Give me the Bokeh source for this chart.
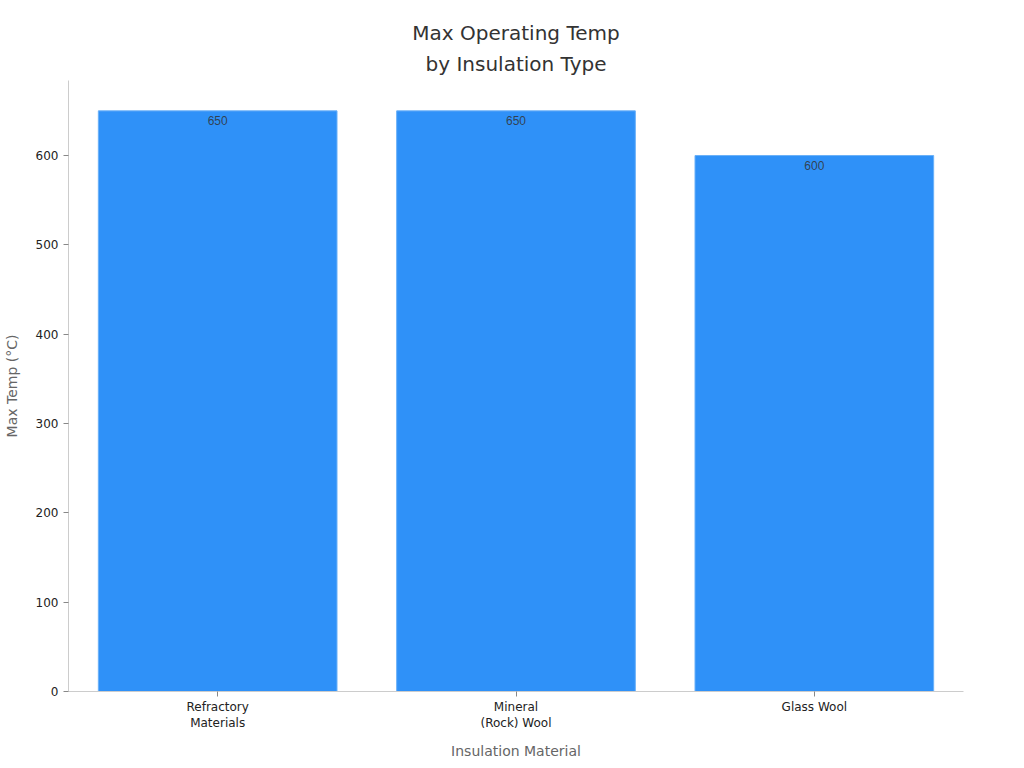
from bokeh.plotting import figure
from bokeh.models import ColumnDataSource, FactorRange, Range1d, Title, CategoricalAxis
from bokeh.embed import file_html
from bokeh.resources import INLINE

# Data
materials = ["Refractory Materials", "Mineral (Rock) Wool", "Glass Wool"]
label_line1 = ["Refractory", "Mineral", "Glass Wool"]
label_line2 = ["Materials", "(Rock) Wool", " "]
max_temp = [650, 650, 600]

source = ColumnDataSource(data=dict(
    material=label_line1,
    name=materials,
    temp=max_temp,
    label=[str(t) for t in max_temp],
))

p = figure(
    x_range=FactorRange(*label_line1, range_padding=0),
    y_range=Range1d(0, 684),
    width=1016, height=760,
    frame_width=895, frame_height=611,
    min_border_left=68, min_border_right=53,
    min_border_top=80, min_border_bottom=69,
    title=None,
    y_axis_label="Max Temp (°C)",
    toolbar_location=None,
    output_backend="svg",
)
p.extra_x_ranges = {"line2": FactorRange(*label_line2, range_padding=0)}

p.vbar(x="material", top="temp", width=0.8, source=source,
       fill_color="#2f91f8", line_color="#6ab0f8", line_width=1)

p.text(x="material", y="temp", text="label", source=source,
       text_align="center", text_baseline="top", y_offset=5,
       text_font_size="12px", text_color="#333333", text_alpha=0.85)

# Two-line title, each line centred
for line, gap in [("by Insulation Type", 10), ("Max Operating Temp", 0)]:
    p.add_layout(Title(text=line, align="center", text_font="DejaVu Sans",
                       text_font_size="20px", text_font_style="normal",
                       text_line_height=0.75,
                       text_color="#333333", standoff=gap), "above")

# second row of x tick labels (two-line category names)
x2 = CategoricalAxis(x_range_name="line2", axis_label="Insulation Material")
p.add_layout(x2, "below")

for ax in (p.xaxis, p.yaxis):
    ax.axis_line_color = "#cccccc"
    ax.major_tick_line_color = "#888888"
    ax.minor_tick_line_color = None
    ax.major_label_text_font = "DejaVu Sans"
    ax.major_label_text_font_size = "12px"
    ax.major_label_text_color = "#222222"
    ax.axis_label_text_font = "DejaVu Sans"
    ax.axis_label_text_font_size = "14px"
    ax.axis_label_text_font_style = "normal"
    ax.axis_label_text_color = "#666666"

xa = p.xaxis[0]
xa.major_tick_out = 5
xa.major_tick_in = 0
xa.major_label_standoff = 3

x2.axis_line_color = None
x2.major_tick_line_color = None
x2.major_label_standoff = -7
x2.axis_label_standoff = 10

p.yaxis.major_tick_out = 5
p.yaxis.major_tick_in = 0
p.yaxis.axis_label_standoff = 13
p.yaxis.ticker = [0, 100, 200, 300, 400, 500, 600]

p.xgrid.grid_line_color = None
p.ygrid.grid_line_color = None
p.outline_line_color = None

open("out.html", "w").write(file_html(p, INLINE))
